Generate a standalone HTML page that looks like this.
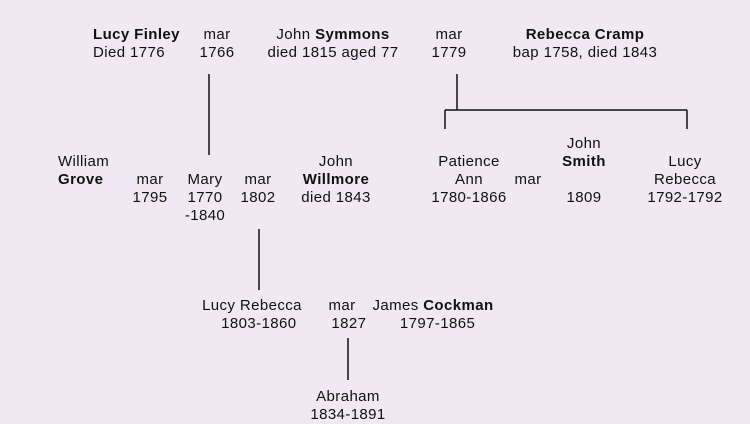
<!DOCTYPE html>
<html><head><meta charset="utf-8"><style>
body{margin:0;width:750px;height:421px;background:#f0e8f2;position:relative;overflow:hidden;font-family:"Liberation Sans",sans-serif;font-size:15px;letter-spacing:0.4px;color:#111;}
.w{position:absolute;left:0;top:2px;width:750px;height:421px;}
.t{position:absolute;width:200px;text-align:center;line-height:18px;white-space:nowrap;}
.l{position:absolute;text-align:left;line-height:18px;white-space:nowrap;}
b{font-weight:bold;}
svg{position:absolute;left:0;top:0;}
</style></head><body>
<svg width="750" height="421"><g stroke="#111" stroke-width="1.5" fill="none">
<line x1="209" y1="74" x2="209" y2="155"/>
<line x1="457" y1="74" x2="457" y2="110"/>
<line x1="445" y1="110" x2="687" y2="110"/>
<line x1="445" y1="110" x2="445" y2="129"/>
<line x1="687" y1="110" x2="687" y2="129"/>
<line x1="259" y1="229" x2="259" y2="290"/>
<line x1="348" y1="338" x2="348" y2="380"/>
</g></svg>
<div class="w">
<div class="l" style="left:93px;top:24px"><b>Lucy Finley</b><br>Died 1776</div>
<div class="t" style="left:117px;top:24px">mar<br>1766</div>
<div class="t" style="left:233px;top:24px">John <b>Symmons</b><br>died 1815 aged 77</div>
<div class="t" style="left:349px;top:24px">mar<br>1779</div>
<div class="t" style="left:485px;top:24px"><b>Rebecca Cramp</b><br>bap 1758, died 1843</div>
<div class="l" style="left:58px;top:151px">William<br><b>Grove</b></div>
<div class="t" style="left:50px;top:169px">mar<br>1795</div>
<div class="t" style="left:105px;top:169px">Mary<br>1770<br>-1840</div>
<div class="t" style="left:158px;top:169px">mar<br>1802</div>
<div class="t" style="left:236px;top:151px">John<br><b>Willmore</b><br>died 1843</div>
<div class="t" style="left:369px;top:151px">Patience<br>Ann<br>1780-1866</div>
<div class="t" style="left:428px;top:169px">mar</div>
<div class="t" style="left:484px;top:133px">John<br><b>Smith</b><br><br>1809</div>
<div class="t" style="left:585px;top:151px">Lucy<br>Rebecca<br>1792-1792</div>
<div class="t" style="left:152px;top:295px">Lucy Rebecca<br>&nbsp;&nbsp;&nbsp;1803-1860</div>
<div class="t" style="left:242px;top:295px">mar<br>&nbsp;&nbsp;&nbsp;1827</div>
<div class="t" style="left:333px;top:295px">James <b>Cockman</b><br>&nbsp;&nbsp;1797-1865</div>
<div class="t" style="left:248px;top:386px">Abraham<br>1834-1891</div>
</div>
</body></html>
